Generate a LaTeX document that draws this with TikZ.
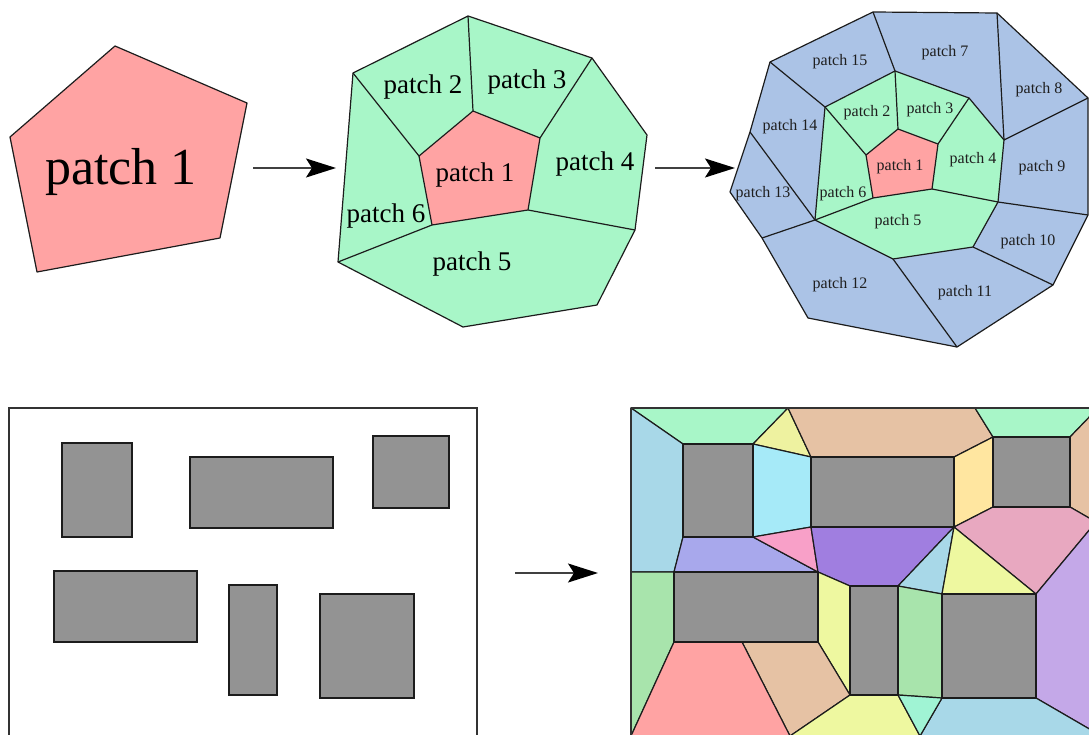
\documentclass[tikz,border=0pt]{standalone}
\usepackage{fontspec}
\setmainfont{Liberation Serif}
\usetikzlibrary{arrows.meta}
\definecolor{pk}{HTML}{FFA3A3}
\definecolor{mint}{HTML}{A8F6C8}
\definecolor{bl}{HTML}{ABC3E6}
\definecolor{gr}{HTML}{939393}
\definecolor{linec}{HTML}{1C1C1C}
\definecolor{lblue}{HTML}{A8D8E8}
\definecolor{cyanr}{HTML}{A6EAF8}
\definecolor{yel}{HTML}{EEF2A0}
\definecolor{tan}{HTML}{E6C2A4}
\definecolor{orng}{HTML}{FFE6A0}
\definecolor{pkr}{HTML}{E8A8C0}
\definecolor{peri}{HTML}{A8A8EC}
\definecolor{pktri}{HTML}{F8A0C8}
\definecolor{purp}{HTML}{A07EE0}
\definecolor{ygr}{HTML}{EEF8A0}
\definecolor{lav}{HTML}{C4A8E8}
\definecolor{lgr}{HTML}{A8E4AC}
\definecolor{mtri}{HTML}{A0F4D4}
\tikzset{
  edge/.style={draw=linec, line width=1.2pt, line join=round},
  reg/.style={edge, fill=#1},
  rectbox/.style={draw=linec, line width=1.4pt, fill=gr},
  frameline/.style={draw=black!80, line width=1.2pt},
  bigl/.style={inner sep=0pt, font=\fontsize{52}{60}\selectfont},
  medl/.style={inner sep=0pt, font=\fontsize{27}{32}\selectfont},
  smll/.style={inner sep=0pt, font=\fontsize{16}{19}\selectfont, text=black!88},
  arr/.style={draw=black!75, line width=1.6pt, -{Stealth[length=30pt,width=19pt,inset=6pt,color=black]}}
}
\begin{document}
\begin{tikzpicture}[x=1pt,y=-1pt]
\useasboundingbox (0,0) rectangle (1089,735);
\clip (0,0) rectangle (1089,735);

%% ---------- panel 1 ----------
\draw[reg=pk] (115,46) coordinate (p1a) -- (247,103) coordinate (p1b) -- (220,238) coordinate (p1c) -- (37,272) coordinate (p1d) -- (10,137) coordinate (p1e) -- cycle;
\node[bigl] (L1) at (121,172) {patch 1};

%% arrows
\coordinate (a1s) at (253,168); \coordinate (a1e) at (336,168);
\coordinate (a2s) at (655,168); \coordinate (a2e) at (735,168);
\coordinate (a3s) at (515,573); \coordinate (a3e) at (598,573);
\draw[arr] (a1s) -- (a1e);
\draw[arr] (a2s) -- (a2e);
\draw[arr] (a3s) -- (a3e);

%% ---------- panel 2 ----------
\coordinate (o1) at (353,73);  \coordinate (o2) at (468,16);
\coordinate (o3) at (592,58);  \coordinate (o4) at (647,135);
\coordinate (o5) at (635,230); \coordinate (o6) at (597,305);
\coordinate (o7) at (463,327); \coordinate (o8) at (338,262);
\coordinate (i1) at (473,111); \coordinate (i2) at (540,138);
\coordinate (i3) at (528,210); \coordinate (i4) at (432,225);
\coordinate (i5) at (419,156);
\draw[reg=mint] (o1) -- (o2) -- (o3) -- (o4) -- (o5) -- (o6) -- (o7) -- (o8) -- cycle;
\draw[reg=pk] (i1) -- (i2) -- (i3) -- (i4) -- (i5) -- cycle;
\draw[edge] (i1) -- (o2) (i2) -- (o3) (i3) -- (o5) (i4) -- (o8) (i5) -- (o1);
\node[medl] (m2) at (423,87) {patch 2};
\node[medl] (m3) at (527,82) {patch 3};
\node[medl] (m4) at (595,164) {patch 4};
\node[medl] (m1) at (475,175) {patch 1};
\node[medl] (m6) at (386,216) {patch 6};
\node[medl] (m5) at (472,264) {patch 5};

%% ---------- panel 3 ----------
\coordinate (q1) at (873,12);   \coordinate (q2) at (997,13);
\coordinate (q3) at (1088,98);  \coordinate (q4) at (1088,215);
\coordinate (q5) at (1053,285); \coordinate (q6) at (957,347);
\coordinate (q7) at (808,318);  \coordinate (q8) at (762,238);
\coordinate (q9) at (730,192);  \coordinate (q10) at (750,132);
\coordinate (q11) at (770,62);
\coordinate (g1) at (895,71);   \coordinate (g2) at (969,98);
\coordinate (g3) at (1004,140); \coordinate (g4) at (998,202);
\coordinate (g5) at (973,247);  \coordinate (g6) at (893,259);
\coordinate (g7) at (815,220);  \coordinate (g8) at (825,107);
\coordinate (k1) at (898,129);  \coordinate (k2) at (938,144);
\coordinate (k3) at (932,189);  \coordinate (k4) at (873,198);
\coordinate (k5) at (866,155);
\draw[reg=bl] (q1) -- (q2) -- (q3) -- (q4) -- (q5) -- (q6) -- (q7) -- (q8) -- (q9) -- (q10) -- (q11) -- cycle;
\draw[reg=mint] (g1) -- (g2) -- (g3) -- (g4) -- (g5) -- (g6) -- (g7) -- (g8) -- cycle;
\draw[reg=pk] (k1) -- (k2) -- (k3) -- (k4) -- (k5) -- cycle;
\draw[edge] (k1) -- (g1) (k2) -- (g2) (k3) -- (g4) (k4) -- (g7) (k5) -- (g8);
\draw[edge] (g1) -- (q1) (g3) -- (q2) (g3) -- (q3) (g4) -- (q4) (g5) -- (q5)
            (g6) -- (q6) (g7) -- (q8) (g7) -- (q10) (g8) -- (q11);
\node[smll] (s15) at (840,62) {patch 15};
\node[smll] (s7)  at (945,53) {patch 7};
\node[smll] (s8)  at (1039,90) {patch 8};
\node[smll] (s14) at (790,127) {patch 14};
\node[smll] (s2)  at (867,113) {patch 2};
\node[smll] (s3)  at (930,110) {patch 3};
\node[smll] (s4)  at (973,160) {patch 4};
\node[smll] (s9)  at (1042,168) {patch 9};
\node[smll] (s1)  at (900,167) {patch 1};
\node[smll] (s13) at (763,194) {patch 13};
\node[smll] (s6)  at (843,194) {patch 6};
\node[smll] (s5)  at (898,222) {patch 5};
\node[smll] (s10) at (1028,242) {patch 10};
\node[smll] (s12) at (840,285) {patch 12};
\node[smll] (s11) at (965,293) {patch 11};

%% ---------- panel 4 (obstacles) ----------
\draw[frameline] (9,408) rectangle (477,760);
\draw[rectbox] (62,443) rectangle (132,537);
\draw[rectbox] (190,457) rectangle (333,528);
\draw[rectbox] (373,436) rectangle (449,508);
\draw[rectbox] (54,571) rectangle (197,642);
\draw[rectbox] (229,585) rectangle (277,695);
\draw[rectbox] (320,594) rectangle (414,698);

%% ---------- panel 5 (decomposition) ----------
\coordinate (TL) at (631,408); \coordinate (FTR) at (1098,408);
\coordinate (A) at (683,444);  \coordinate (B) at (753,444);
\coordinate (C) at (753,537);  \coordinate (D) at (683,537);
\coordinate (E) at (811,457);  \coordinate (F) at (954,457);
\coordinate (G) at (954,527);  \coordinate (H) at (811,527);
\coordinate (I) at (993,437);  \coordinate (J) at (1070,437);
\coordinate (K) at (1070,507); \coordinate (L) at (993,507);
\coordinate (M) at (674,572);  \coordinate (N) at (818,572);
\coordinate (O) at (818,642);  \coordinate (P) at (674,642);
\coordinate (Q) at (850,586);  \coordinate (Rr) at (898,586);
\coordinate (S) at (898,695);  \coordinate (T) at (850,695);
\coordinate (U) at (942,594);  \coordinate (V) at (1036,594);
\coordinate (W) at (1036,698); \coordinate (X) at (942,698);
\coordinate (Y1) at (788,408); \coordinate (Y2) at (975,408);
\coordinate (Lm) at (631,572);
\coordinate (Zr) at (1096,522); \coordinate (Zr2) at (1098,522);
\coordinate (rw) at (1098,734);
\coordinate (pb) at (631,736); \coordinate (tb) at (790,736);
\coordinate (mb) at (920,736); \coordinate (tn) at (742,642);
\coordinate (b1) at (631,760); \coordinate (b2) at (790,760);
\coordinate (b3) at (920,760); \coordinate (b4) at (1098,760);

\draw[reg=mint] (TL) -- (Y1) -- (B) -- (A) -- cycle;
\draw[reg=lblue] (TL) -- (A) -- (D) -- (M) -- (Lm) -- cycle;
\draw[reg=yel] (Y1) -- (E) -- (B) -- cycle;
\draw[reg=cyanr] (B) -- (E) -- (H) -- (C) -- cycle;
\draw[reg=tan] (Y1) -- (Y2) -- (I) -- (F) -- (E) -- cycle;
\draw[reg=orng] (F) -- (I) -- (L) -- (G) -- cycle;
\draw[reg=mint] (Y2) -- (FTR) -- (J) -- (I) -- cycle;
\draw[reg=tan] (J) -- (FTR) -- (Zr2) -- (Zr) -- (K) -- cycle;
\draw[reg=pkr] (G) -- (L) -- (K) -- (Zr) -- (V) -- cycle;
\draw[reg=lav] (V) -- (Zr) -- (Zr2) -- (rw) -- (W) -- cycle;
\draw[reg=lblue] (X) -- (W) -- (rw) -- (b4) -- (b3) -- (mb) -- cycle;
\draw[reg=peri] (D) -- (C) -- (N) -- (M) -- cycle;
\draw[reg=pktri] (C) -- (H) -- (N) -- cycle;
\draw[reg=purp] (H) -- (G) -- (Rr) -- (Q) -- (N) -- cycle;
\draw[reg=lblue] (G) -- (U) -- (Rr) -- cycle;
\draw[reg=ygr] (G) -- (V) -- (U) -- cycle;
\draw[reg=lgr] (Lm) -- (M) -- (P) -- (pb) -- cycle;
\draw[reg=ygr] (N) -- (Q) -- (T) -- (O) -- cycle;
\draw[reg=lgr] (Rr) -- (U) -- (X) -- (S) -- cycle;
\draw[reg=tan] (tn) -- (O) -- (T) -- (tb) -- cycle;
\draw[reg=pk] (P) -- (tn) -- (tb) -- (b2) -- (b1) -- (pb) -- cycle;
\draw[reg=ygr] (T) -- (S) -- (mb) -- (b3) -- (b2) -- (tb) -- cycle;
\draw[reg=mtri] (S) -- (X) -- (mb) -- cycle;

\draw[rectbox] (A) rectangle (C);
\draw[rectbox] (E) rectangle (G);
\draw[rectbox] (I) rectangle (K);
\draw[rectbox] (M) rectangle (O);
\draw[rectbox] (Q) rectangle (S);
\draw[rectbox] (U) rectangle (W);
\draw[frameline] (TL) -- (FTR) (TL) -- (b1);
\end{tikzpicture}
\end{document}
